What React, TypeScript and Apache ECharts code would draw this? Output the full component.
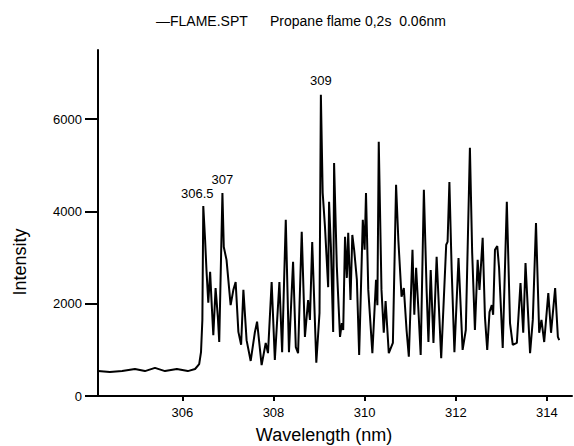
import React, { useEffect, useRef } from "react";
import * as echarts from "echarts";

// Wavelength (nm) of each read point of the FLAME.SPT trace
const wavelengths: number[] = [
  304.15, 304.41, 304.68, 304.96, 305.18, 305.40, 305.62, 305.88, 306.12, 306.28,
  306.37, 306.41, 306.44, 306.46, 306.50, 306.53, 306.57, 306.61, 306.64, 306.68,
  306.73, 306.78, 306.81, 306.88, 306.91, 306.97, 307.06, 307.12, 307.17, 307.23,
  307.29, 307.34, 307.41, 307.50, 307.59, 307.64, 307.74, 307.83, 307.88, 307.96,
  308.03, 308.13, 308.19, 308.27, 308.34, 308.43, 308.49, 308.54, 308.62, 308.69,
  308.76, 308.80, 308.85, 308.94, 309.01, 309.04, 309.08, 309.13, 309.20, 309.22,
  309.26, 309.31, 309.33, 309.39, 309.46, 309.50, 309.53, 309.57, 309.61, 309.64,
  309.69, 309.73, 309.77, 309.83, 309.88, 309.96, 310.00, 310.03, 310.08, 310.17,
  310.25, 310.28, 310.31, 310.37, 310.42, 310.46, 310.53, 310.62, 310.69, 310.74,
  310.81, 310.86, 310.92, 310.97, 311.05, 311.09, 311.13, 311.18, 311.23, 311.30,
  311.36, 311.40, 311.45, 311.51, 311.58, 311.68, 311.79, 311.82, 311.86, 311.91,
  311.97, 312.06, 312.15, 312.22, 312.31, 312.36, 312.42, 312.48, 312.52, 312.59,
  312.64, 312.69, 312.74, 312.79, 312.82, 312.86, 312.91, 312.95, 313.03, 313.12,
  313.19, 313.25, 313.34, 313.42, 313.48, 313.53, 313.63, 313.69, 313.76, 313.83,
  313.88, 313.94, 314.03, 314.09, 314.18, 314.24, 314.27
];

// Intensity of each read point
const intensities: number[] = [
  540, 520, 540, 585, 540, 610, 540, 585, 540, 585,
  690, 950, 1650, 4120, 3380, 2730, 2020, 2690, 2080, 1320,
  2340, 1710, 1170, 4400, 3230, 2950, 1970, 2300, 2470, 1390,
  1110, 2300, 1210, 760, 1370, 1610, 670, 1150, 930, 2470,
  780, 2470, 950, 3820, 950, 2910, 1060, 930, 3560, 1280,
  2080, 1650, 3340, 720, 1800, 6530, 4400, 3670, 2360, 4210,
  3230, 1390, 5050, 2800, 1280, 1580, 1430, 3450, 2560, 3540,
  2080, 3490, 3170, 2520, 890, 3820, 3170, 4400, 2300, 930,
  2520, 1970, 5510, 2300, 1370, 2060, 930, 1150, 4580, 3380,
  2150, 2340, 1430, 850, 3170, 1760, 2780, 1870, 890, 4470,
  2300, 1170, 2730, 1150, 3020, 820, 3280, 3340, 4640, 2730,
  950, 2990, 1000, 1430, 5380, 3100, 1430, 2950, 2300, 3430,
  1710, 1000, 1820, 1970, 1760, 3170, 3250, 2780, 1040, 4210,
  1580, 1110, 1150, 2450, 1370, 2880, 930, 1650, 3750, 1370,
  1650, 1170, 2230, 1370, 2340, 1280, 1210
];

const xTickValues: number[] = [306, 308, 310, 312, 314];
const yTickValues: number[] = [0, 2000, 4000, 6000];

const peakNames: string[] = ["306.5", "307", "309"];
const peakWavelengths: number[] = [306.46, 306.88, 309.04];
const peakIntensities: number[] = [4120, 4400, 6530];

const legendText = "\u2014FLAME.SPT";
const subtitleText = "Propane flame 0,2s  0.06nm";
const xAxisTitle = "Wavelength (nm)";
const yAxisTitle = "Intensity";

const FONT = "'Liberation Sans', Arial, Helvetica, sans-serif";

export default function App() {
  const ref = useRef<HTMLDivElement>(null);

  useEffect(() => {
    if (!ref.current) return;
    const chart = echarts.init(ref.current, undefined, { renderer: "svg" });
    const lineData = wavelengths.map((w, i) => [w, intensities[i]]);
    const labelOffsets: number[][] = [[-6, -12], [0, -14], [0, -14]];
    const markData = peakNames.map((n, i) => ({
      name: n,
      coord: [peakWavelengths[i], peakIntensities[i]],
      label: { offset: labelOffsets[i] },
    }));

    chart.setOption({
      animation: false,
      backgroundColor: "#ffffff",
      grid: { left: 98, right: 2, top: 50, bottom: 50 },
      xAxis: {
        type: "value",
        min: 304.15,
        max: 314.55,
        splitLine: { show: false },
        axisLine: { show: true, onZero: false, lineStyle: { color: "#000", width: 2 } },
        axisTick: {
          show: true,
          customValues: xTickValues,
          length: 5,
          lineStyle: { color: "#000", width: 2 },
        },
        axisLabel: {
          customValues: xTickValues,
          formatter: (v: number) => String(v),
          color: "#000",
          fontFamily: FONT,
          fontSize: 13,
          margin: 10,
        },
      },
      yAxis: {
        type: "value",
        min: 0,
        max: 7500,
        splitLine: { show: false },
        axisLine: { show: true, lineStyle: { color: "#000", width: 2 } },
        axisTick: {
          show: true,
          customValues: yTickValues,
          length: 13,
          lineStyle: { color: "#000", width: 2 },
        },
        axisLabel: {
          customValues: yTickValues,
          formatter: (v: number) => String(v),
          color: "#000",
          fontFamily: FONT,
          fontSize: 13,
          margin: 16,
        },
      },
      series: [
        {
          type: "line",
          data: lineData,
          showSymbol: false,
          symbol: "none",
          lineStyle: { color: "#000", width: 2 },
          markPoint: {
            symbol: "circle",
            symbolSize: 1,
            itemStyle: { color: "rgba(0,0,0,0)" },
            label: {
              show: true,
              position: "inside",
              formatter: "{b}",
              color: "#000",
              fontFamily: FONT,
              fontSize: 13,
            },
            data: markData,
          },
        },
      ],
      graphic: [
        {
          type: "text",
          left: 156,
          top: 14,
          style: { text: legendText, font: `14px ${FONT}`, fill: "#000" },
        },
        {
          type: "text",
          left: 270,
          top: 14,
          style: { text: subtitleText, font: `14px ${FONT}`, fill: "#000" },
        },
        {
          type: "text",
          x: 324,
          y: 435,
          style: {
            text: xAxisTitle,
            font: `18px ${FONT}`,
            fill: "#000",
            align: "center",
            verticalAlign: "middle",
          },
        },
        {
          type: "text",
          x: 20,
          y: 262,
          rotation: Math.PI / 2,
          style: {
            text: yAxisTitle,
            font: `18px ${FONT}`,
            fill: "#000",
            align: "center",
            verticalAlign: "middle",
          },
        },
      ],
    });

    return () => {
      chart.dispose();
    };
  }, []);

  return (
    <div
      ref={ref}
      style={{ position: "fixed", left: 0, top: 0, width: 574, height: 446, background: "#fff" }}
    />
  );
}
